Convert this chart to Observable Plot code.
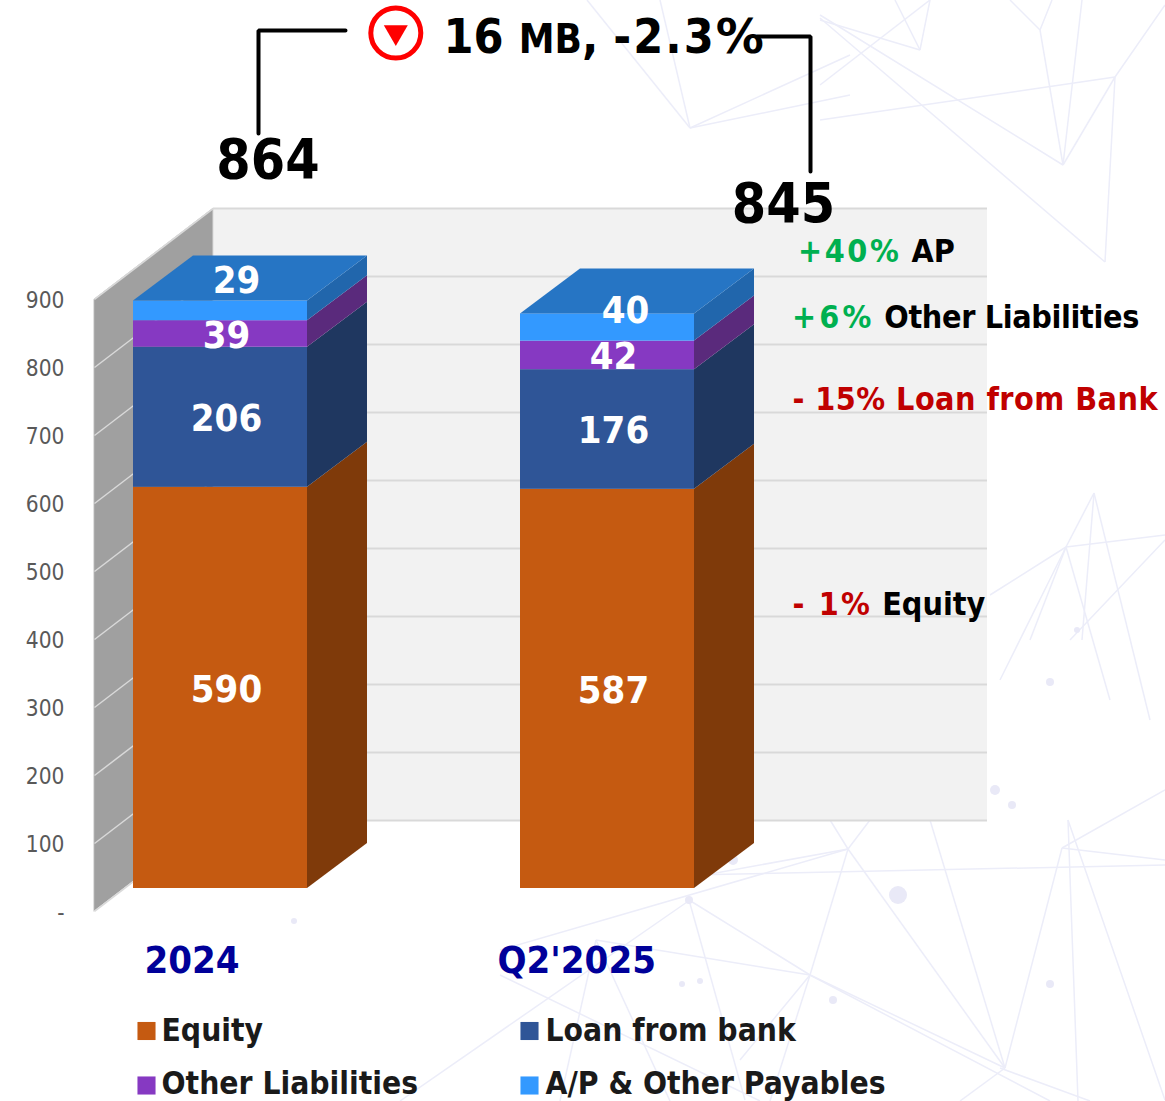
<!DOCTYPE html>
<html>
<head>
<meta charset="utf-8">
<script src="https://cdn.jsdelivr.net/npm/d3@7"></script>
<script src="https://cdn.jsdelivr.net/npm/@observablehq/plot@0.6"></script>
<style>
html,body{margin:0;padding:0;background:#fff;}
body{width:1165px;height:1101px;overflow:hidden;position:relative;}
svg{display:block;}
text{font-stretch:condensed;}
</style>
</head>
<body>
<div id="chart"></div>
<script>
// ---- values ----
const periods = ["2024", "Q2'2025"];
const seriesNames = ["Equity", "Loan from bank", "Other Liabilities", "A/P & Other Payables"];
const seriesFront = ["#c55a11", "#2f5597", "#8639c2", "#3399ff"];
const seriesSide = ["#7f3a0a", "#1f3760", "#5a2a7c", "#2166ac"];
const equity = [590, 587];
const loan = [206, 176];
const otherLiabilities = [39, 42];
const payables = [29, 40];
const totals = [864, 845];
const yTicks = [0, 100, 200, 300, 400, 500, 600, 700, 800, 900];
const changes = [
  {text: "+40% AP", spans: [["+40%", "#00b050", 2.6], [" AP", "#000", 0]], px: 797.5, py: 251},
  {text: "+6% Other Liabilities", spans: [["+6%", "#00b050", 3.2], [" Other Liabilities", "#000", -0.35]], px: 791.5, py: 317},
  {text: "- 15% Loan from Bank", spans: [["- 15% Loan from Bank", "#c00000", 0.45]], px: 792, py: 399},
  {text: "- 1% Equity", spans: [["- 1%", "#c00000", 2.2], [" Equity", "#000", 0]], px: 792, py: 604}
];
const headline = "16 MB, -2.3%";

// ---- scale helpers: x in category units, y in chart value units ----
const pxPerCat = 387, pxPerVal = 0.68, catOrigin = 133, valOrigin = 911;
const X = px => (px - catOrigin) / pxPerCat;
const Y = py => (valOrigin - py) / pxPerVal;
const barW = 174 / pxPerCat, barDX = 60 / pxPerCat, barDY = 45 / pxPerVal, barBase = Y(888);
const wallDY = Y(820), wallL = X(94), wallB = X(213), wallR = X(987);

// ---- derived geometry tables ----
const stacks = [equity, loan, otherLiabilities, payables];
const segments = [];
periods.forEach((p, i) => {
  let base = barBase;
  stacks.forEach((s, k) => {
    segments.push({i, k, value: s[i], y1: base, y2: base + s[i], x1: i, x2: i + barW, mid: base + s[i] / 2, front: seriesFront[k], side: seriesSide[k]});
    base += s[i];
  });
});
const sideFaces = segments.flatMap(d => [
  {id: d.i + "-" + d.k, fill: d.side, x: d.x2, y1: d.y1, y2: d.y2},
  {id: d.i + "-" + d.k, fill: d.side, x: d.x2 + barDX, y1: d.y1 + barDY, y2: d.y2 + barDY}
]);
const topFaces = segments.filter(d => d.k === 3).flatMap(d => [
  {id: d.i, x1: d.x1, x2: d.x2, y: d.y2},
  {id: d.i, x1: d.x1 + barDX, x2: d.x2 + barDX, y: d.y2 + barDY}
]);
const leftWall = [
  {x: wallL, y1: 0, y2: 900},
  {x: wallB, y1: wallDY, y2: 900 + wallDY}
];
const connectors = [
  {id: "a", x: X(258), y: Y(133)}, {id: "a", x: X(258), y: Y(30)}, {id: "a", x: X(345), y: Y(30)},
  {id: "b", x: X(757), y: Y(36)}, {id: "b", x: X(810), y: Y(36)}, {id: "b", x: X(810), y: Y(171)}
];
const legend = seriesNames.map((name, k) => ({name, color: seriesFront[k], pos: k}));
const legendPos = [[146, 161, 1030.5], [529, 545, 1030.5], [146, 161, 1083.5], [529, 545, 1083.5]];

const FONT = '"DejaVu Sans Condensed","DejaVu Sans",sans-serif';
const bold = {fontFamily: FONT, fontWeight: 700};

const chart = Plot.plot({
  width: 1165, height: 1101,
  marginTop: 0, marginRight: 0, marginBottom: 0, marginLeft: 0,
  style: {background: "transparent", fontFamily: FONT, overflow: "visible"},
  x: {domain: [X(0), X(1165)], range: [0, 1165], axis: null},
  y: {domain: [Y(1101), Y(0)], range: [1101, 0]},
  marks: [
    // walls
    Plot.rect([0], {x1: wallB, x2: wallR, y1: wallDY, y2: wallDY + 900, fill: "#f2f2f2"}),
    Plot.ruleY(yTicks, {y: d => d + wallDY, x1: wallB, x2: wallR, stroke: "#d9d9d9", strokeWidth: 2}),
    Plot.area(leftWall, {x1: "x", x2: "x", y1: "y1", y2: "y2", fill: "#a0a0a0", stroke: "#d9d9d9", strokeWidth: 1}),
    Plot.link(yTicks, {x1: wallL, x2: wallB, y1: d => d, y2: d => d + wallDY, stroke: "#d9d9d9", strokeWidth: 1.5}),
    // bars
    Plot.rect(segments, {x1: "x1", x2: "x2", y1: "y1", y2: "y2", fill: "front"}),
    Plot.area(sideFaces, {x1: "x", x2: "x", y1: "y1", y2: "y2", z: "id", fill: "fill"}),
    Plot.area(topFaces, {x1: "x1", x2: "x2", y1: "y", y2: "y", z: "id", fill: "#2675c4"}),
    // value labels
    Plot.text(segments.filter(d => d.k < 3), {x: d => d.x1 + barW / 2, y: "mid", text: "value", dx: 6, dy: 1.5, fill: "#fff", fontSize: 38, ...bold}),
    Plot.text(segments.filter(d => d.k === 3 && d.i === 0), {x: d => d.x1 + barW / 2, y: "mid", text: "value", dx: 16, dy: -30, fill: "#fff", fontSize: 38, ...bold}),
    Plot.text(segments.filter(d => d.k === 3 && d.i === 1), {x: d => d.x1 + barW / 2, y: "mid", text: "value", dx: 18, dy: -17, fill: "#fff", fontSize: 38, ...bold}),
    // axis
    Plot.axisY(yTicks, {anchor: "left", tickSize: 0, tickPadding: 0, dx: 64, dy: 1.5, tickFormat: d => d === 0 ? "-" : d, fontSize: 22.5, fill: "#595959", label: null, fontFamily: FONT}),
    // totals and connectors
    Plot.line(connectors, {x: "x", y: "y", z: "id", stroke: "#000", strokeWidth: 4, strokeLinejoin: "miter"}),
    Plot.text([totals[0]], {x: X(267.5), y: Y(159.5), text: d => d, fontSize: 55, fill: "#000", ...bold}),
    Plot.text([totals[1]], {x: X(783), y: Y(204), text: d => d, fontSize: 55, fill: "#000", ...bold}),
    Plot.dot([0], {x: X(395.3), y: Y(32.5), r: 25, stroke: "#ff0000", strokeWidth: 5, fill: "#fff"}),
    Plot.dot([0], {x: X(395.3), y: Y(31.7), r: 8.9, symbol: "triangle", rotate: 180, fill: "#ff0000"}),
    Plot.text([headline], {x: X(443), y: Y(37), text: d => d, textAnchor: "start", fontSize: 48, fill: "#000", ...bold}),
    // change notes
    Plot.text(changes, {x: d => X(d.px), y: d => Y(d.py), text: "text", textAnchor: "start", fontSize: 32, fill: "#000", ...bold}),
    // categories
    Plot.text(periods, {x: (d, i) => X([144, 497][i]), y: Y(960), text: d => d, textAnchor: "start", fontSize: 38, fill: "#000099", ...bold}),
    // legend
    Plot.dot(legend, {x: d => X(legendPos[d.pos][0]), y: d => Y(d.pos > 1 ? 1085 : legendPos[d.pos][2]), symbol: "square", r: 10.2, fill: "color"}),
    Plot.text(legend, {x: d => X(legendPos[d.pos][1]), y: d => Y(legendPos[d.pos][2]), text: "name", textAnchor: "start", fontSize: 31.5, fill: "#1a1a1a", ...bold})
  ]
});

// mixed colours and sizes inside a single text element
d3.select(chart).selectAll("text").each(function () {
  const t = d3.select(this), s = this.textContent;
  const note = changes.find(c => c.text === s);
  if (note) {
    t.text(null).style("white-space", "pre");
    note.spans.forEach(([str, col, ls]) => t.append("tspan").attr("fill", col).attr("letter-spacing", ls).text(str));
  } else if (s === headline) {
    t.text(null).style("white-space", "pre");
    t.append("tspan").text("16 ");
    t.append("tspan").attr("font-size", 40).text("MB");
    t.append("tspan").text(", ");
    t.append("tspan").attr("letter-spacing", 2).text("-2.3");
    t.append("tspan").style("font-family", '"DejaVu Sans",sans-serif').style("font-stretch", "normal").text("%");
  }
});
document.getElementById("chart").append(chart);

// faint decorative network behind the chart
const netLines = [
  [820,20,920,50],[820,15,1063,165],[820,18,1105,262],[1115,77,820,120],[1115,77,1063,165],[1115,77,1105,262],
  [1040,30,1063,165],[1082,0,1063,165],[1165,5,1115,77],[895,0,920,50],[930,0,920,50],[930,0,820,85],[1010,0,1040,30],[1052,0,1040,30],
  [587,0,690,128],[660,0,690,128],[690,128,850,95],[690,128,850,55],
  [1094,493,1066,547],[1066,547,1165,535],[1066,547,990,595],[1094,493,1082,640],[1094,493,1150,720],[1066,547,1110,700],[1066,547,1030,640],[1066,547,1000,680],[1165,540,1070,640],
  [848,849,650,885],[848,849,500,950],[690,875,1165,865],[689,900,745,1100],[689,900,810,975],[810,975,848,849],[810,975,596,940],[810,975,1005,1068],[810,975,1050,1101],
  [848,849,1005,1068],[930,820,1005,1068],[1062,848,1005,1068],[1068,820,1165,1100],[1068,820,1078,1101],[848,849,830,820],[848,849,870,820],[596,940,560,1101],[596,940,670,1101],[400,1101,690,900],
  [810,975,740,1060],[810,975,770,1101],[1005,1068,960,1101],[1062,848,1165,790],[1062,848,1165,860],[500,975,760,1101],[1000,1068,1090,1101]
];
const netDots = [[898,895,9],[733,860,5],[689,900,4],[1050,984,4],[1050,682,4],[1012,805,4],[995,790,5],[294,921,3],[833,1000,4],[682,984,3],[700,981,3],[1077,630,3]];
const bg = `<svg xmlns="http://www.w3.org/2000/svg" width="1165" height="1101">` +
  netLines.map(l => `<line x1="${l[0]}" y1="${l[1]}" x2="${l[2]}" y2="${l[3]}" stroke="#ecedf9" stroke-width="1.5"/>`).join("") +
  netDots.map(c => `<circle cx="${c[0]}" cy="${c[1]}" r="${c[2]}" fill="#e9e9f7"/>`).join("") + `</svg>`;
document.body.style.backgroundImage = `url("data:image/svg+xml,${encodeURIComponent(bg)}")`;
document.body.style.backgroundRepeat = "no-repeat";
</script>
</body>
</html>
